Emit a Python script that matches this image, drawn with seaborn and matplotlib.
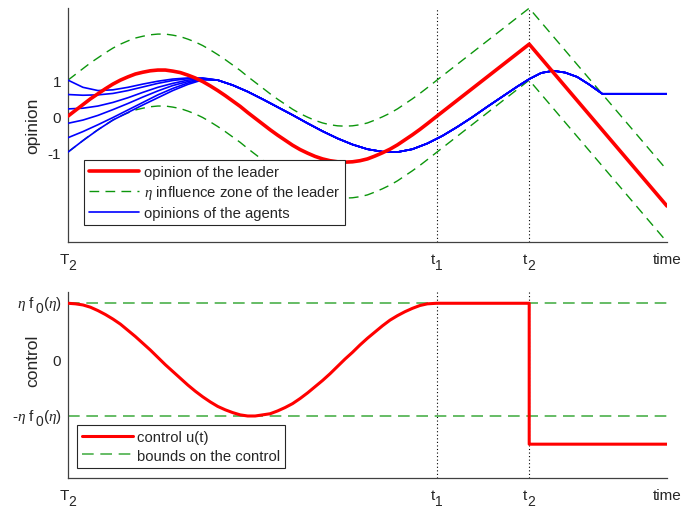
import numpy as np
import seaborn as sns
import matplotlib.pyplot as plt
from matplotlib.transforms import offset_copy

# --- Datos (tiempo en unidades arbitrarias: T2=0, fin=10) ---
T1 = 6.16
T2_SW = 7.70
T_END = 10.0
ETA = 1.0

# rejilla de muestreo en [T2, t1] (cada 1/8 de unidad) + quiebres t1, t2, fin
grid = [i / 8 for i in range(49)] + [T1]

leader_t = grid + [T2_SW, T_END]
leader_v = [0.00, 0.16, 0.32, 0.48, 0.62, 0.76, 0.89, 1.00, 1.09, 1.17, 1.22, 1.26,
            1.28, 1.28, 1.25, 1.21, 1.14, 1.06, 0.96, 0.84, 0.71, 0.57, 0.42, 0.27,
            0.10, -0.06, -0.22, -0.38, -0.53, -0.67, -0.81, -0.93, -1.03, -1.12,
            -1.19, -1.24, -1.27, -1.28, -1.27, -1.24, -1.19, -1.11, -1.02, -0.92,
            -0.80, -0.66, -0.52, -0.37, -0.21, 0.00,
            2.00, -2.50]

control_t = grid + [T2_SW, T2_SW, T_END]
control_v = [1.00, 0.99, 0.97, 0.93, 0.87, 0.80, 0.72, 0.63, 0.52, 0.41, 0.29, 0.17,
             0.04, -0.09, -0.21, -0.33, -0.45, -0.56, -0.66, -0.75, -0.83, -0.89,
             -0.94, -0.98, -1.00, -1.00, -0.98, -0.96, -0.91, -0.85, -0.78, -0.69,
             -0.59, -0.48, -0.37, -0.25, -0.12, 0.01, 0.13, 0.26, 0.38, 0.49, 0.60,
             0.70, 0.78, 0.85, 0.91, 0.96, 0.99, 1.00,
             1.00, -1.50, -1.50]

agent_t = [0, 0.25, 0.5, 0.75, 1, 1.25, 1.5, 1.75, 2, 2.25]
agent_a = [1.00, 0.80, 0.71, 0.73, 0.80, 0.89, 0.97, 1.03, 1.06, 1.06]
agent_b = [0.60, 0.58, 0.59, 0.63, 0.71, 0.81, 0.91, 0.99, 1.04, 1.05]
agent_c = [0.20, 0.22, 0.28, 0.38, 0.51, 0.66, 0.80, 0.91, 1.00, 1.04]
agent_d = [-0.20, -0.11, 0.02, 0.18, 0.35, 0.53, 0.70, 0.85, 0.96, 1.03]
agent_e = [-0.60, -0.43, -0.24, -0.04, 0.17, 0.38, 0.59, 0.77, 0.92, 1.02]
agent_f = [-1.00, -0.68, -0.38, -0.11, 0.10, 0.31, 0.51, 0.71, 0.88, 1.01]

consensus_t = [2.5, 2.75, 3, 3.25, 3.5, 3.75, 4, 4.25, 4.5, 4.75, 5, 5.25, 5.5,
               5.75, 6, 6.25, 6.5, 6.75, 7, 7.25, 7.5, 7.7, 7.9, 8.1, 8.3, 8.5,
               8.7, 8.92, 10]
consensus_v = [1.00, 0.86, 0.68, 0.47, 0.25, 0.03, -0.20, -0.42, -0.62, -0.79,
               -0.92, -0.99, -1.00, -0.92, -0.76, -0.55, -0.30, -0.03, 0.26, 0.54,
               0.82, 1.03, 1.20, 1.26, 1.21, 1.09, 0.88, 0.62, 0.62]

x_ticks = [0, T1, T2_SW, T_END]
x_labels = [("T", "2"), ("t", "1"), ("t", "2"), ("time", "")]

RED = "#ff0000"
BLUE = "#0000ff"
GREEN_TOP = "#0c960c"
GREEN_BOT = "#4cb04c"
AXIS_COL = "#404040"
TXT_COL = "#262626"
TICK_FS = 11
SUB_FS = 10

sns.set_theme(style="white")
plt.rcParams["font.family"] = ["Liberation Sans", "DejaVu Sans"]
plt.rcParams["mathtext.fontset"] = "custom"
plt.rcParams["mathtext.rm"] = "Liberation Sans"
plt.rcParams["mathtext.it"] = "Liberation Serif:italic"

fig = plt.figure(figsize=(6.84, 5.10), dpi=100)
renderer = fig.canvas.get_renderer()


def place_pieces(ax, x, y, trans, pieces, align, base_dx, base_dy):
    """Escribe un texto en trozos (con subindices) alineado a la derecha o centrado."""
    texts, widths = [], []
    for s, dy, fs in pieces:
        t = ax.text(x, y, s, fontsize=fs, color=TXT_COL, transform=trans,
                    ha="left", va="baseline", clip_on=False)
        texts.append(t)
        widths.append(t.get_window_extent(renderer).width)
    total = sum(widths)
    x0 = -total if align == "right" else -total / 2
    x0 += base_dx
    for t, w, (s, dy, fs) in zip(texts, widths, pieces):
        t.set_transform(offset_copy(trans, fig=fig, x=x0, y=base_dy + dy, units="dots"))
        x0 += w


def style_axes(ax, ylim, yticks, ylabels):
    ax.set_xlim(0, T_END)
    ax.set_ylim(*ylim)
    for s in ["top", "right"]:
        ax.spines[s].set_visible(False)
    for s in ["left", "bottom"]:
        ax.spines[s].set_color(AXIS_COL)
        ax.spines[s].set_linewidth(0.9)
    ax.set_xticks(x_ticks)
    ax.set_xticklabels([""] * len(x_ticks))
    ax.set_yticks(yticks)
    ax.set_yticklabels(ylabels)
    ax.tick_params(axis="both", direction="in", length=4, width=0.8,
                   color=AXIS_COL, labelsize=TICK_FS, labelcolor=TXT_COL)
    ax.tick_params(axis="y", pad=5)
    ax.set_xlabel("")
    for xv in [T1, T2_SW]:
        ax.axvline(xv, color="black", linestyle=(0, (1, 2.2)), linewidth=0.8, zorder=1)
    # etiquetas del eje x con subindices
    xt = ax.get_xaxis_transform()
    for xv, (main, sub) in zip(x_ticks, x_labels):
        pieces = [(main, 0, TICK_FS)]
        if sub:
            pieces.append((sub, -6, SUB_FS))
        place_pieces(ax, xv, 0, xt, pieces, "center", 0, -21)


ax1 = fig.add_axes([0.0994, 0.5235, 0.8757, 0.4585])
ax2 = fig.add_axes([0.0994, 0.0608, 0.8757, 0.3647])

# --- Panel superior: opiniones ---
lead = np.array(leader_v)
zone_up = lead + ETA
zone_lo = lead - ETA

agents = [agent_a, agent_b, agent_c, agent_d, agent_e, agent_f]
for ag in agents:
    sns.lineplot(x=agent_t + consensus_t, y=ag + consensus_v, ax=ax1, color=BLUE,
                 linewidth=1.2, estimator=None, sort=False, zorder=3)
blue_line = ax1.lines[0]

sns.lineplot(x=leader_t, y=zone_up, ax=ax1, color=GREEN_TOP, linewidth=1.0,
             linestyle=(0, (7, 4.5)), estimator=None, sort=False, zorder=2)
green_line = ax1.lines[-1]
sns.lineplot(x=leader_t, y=zone_lo, ax=ax1, color=GREEN_TOP, linewidth=1.0,
             linestyle=(0, (7, 4.5)), estimator=None, sort=False, zorder=2)
sns.lineplot(x=leader_t, y=leader_v, ax=ax1, color=RED, linewidth=2.6,
             estimator=None, sort=False, zorder=4)
red_line = ax1.lines[-1]

style_axes(ax1, (-3.5, 3), [-1, 0, 1, 3], ["-1", "0", "1", ""])
ax1.set_ylabel("opinion", fontsize=12.5, color=TXT_COL)
ax1.yaxis.set_label_coords(-0.046, 0.5)
ax1.legend([red_line, green_line, blue_line],
           ["opinion of the leader", r"$\eta$ influence zone of the leader",
            "opinions of the agents"],
           loc="upper left", bbox_to_anchor=(0.026, 0.352), fontsize=10.7,
           frameon=True, fancybox=False, framealpha=1, edgecolor=TXT_COL,
           handlelength=3.4, handletextpad=0.3, borderpad=0.35,
           labelspacing=0.3, borderaxespad=0)
ax1.get_legend().get_frame().set_linewidth(0.8)

# --- Panel inferior: control ---
sns.lineplot(x=[0, T_END], y=[1, 1], ax=ax2, color=GREEN_BOT, linewidth=1.2,
             linestyle=(0, (7, 4)), estimator=None, sort=False, zorder=2)
bound_line = ax2.lines[-1]
sns.lineplot(x=[0, T_END], y=[-1, -1], ax=ax2, color=GREEN_BOT, linewidth=1.2,
             linestyle=(0, (7, 4)), estimator=None, sort=False, zorder=2)
sns.lineplot(x=control_t, y=control_v, ax=ax2, color=RED, linewidth=2.2,
             estimator=None, sort=False, zorder=4)
ctrl_line = ax2.lines[-1]

style_axes(ax2, (-2.1, 1.2), [-1, 0, 1, 1.2], ["", "0", "", ""])
yt = ax2.get_yaxis_transform()
for yv, sign in [(1, ""), (-1, "-")]:
    place_pieces(ax2, 0, yv, yt,
                 [(sign + r"$\eta$ f", 0, TICK_FS), ("0", -5, SUB_FS),
                  (r"($\eta$)", 0, TICK_FS)],
                 "right", -6, -4)

ax2.set_ylabel("control", fontsize=12.5, color=TXT_COL)
ax2.yaxis.set_label_coords(-0.046, 0.634)
ax2.legend([ctrl_line, bound_line], ["control u(t)", "bounds on the control"],
           loc="upper left", bbox_to_anchor=(0.015, 0.285), fontsize=10.7,
           frameon=True, fancybox=False, framealpha=1, edgecolor=TXT_COL,
           handlelength=3.4, handletextpad=0.3, borderpad=0.35,
           labelspacing=0.3, borderaxespad=0)
ax2.get_legend().get_frame().set_linewidth(0.8)

fig.savefig("out.png", dpi=100)
